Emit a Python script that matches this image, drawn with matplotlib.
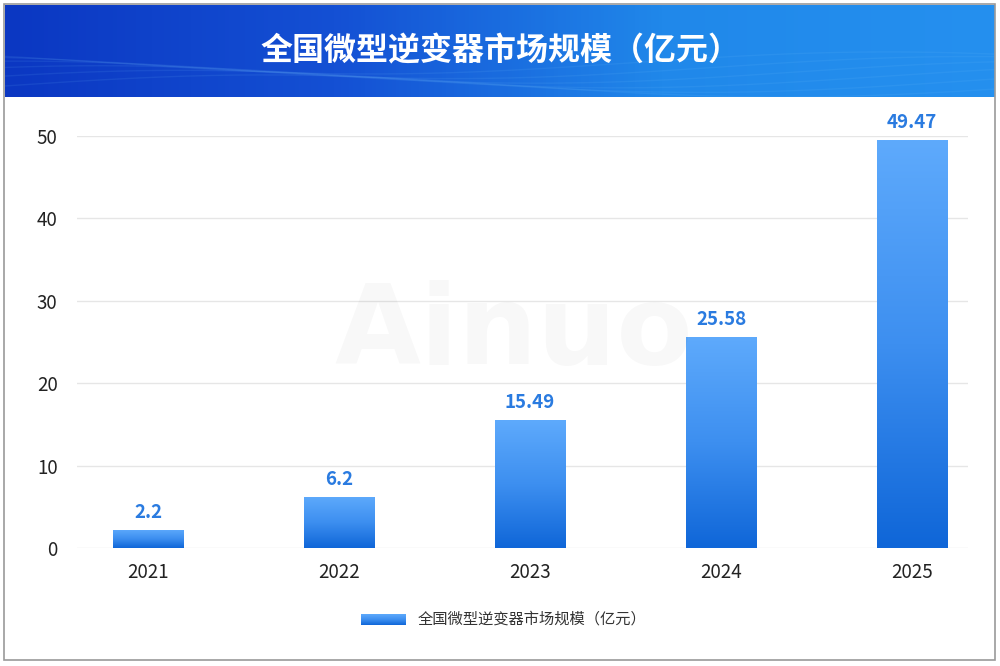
import numpy as np
import matplotlib.pyplot as plt
from matplotlib.colors import LinearSegmentedColormap
from matplotlib.patches import Rectangle

plt.rcParams['font.family'] = ['Noto Sans CJK SC', 'DejaVu Sans']

# 数据
years = ["2021", "2022", "2023", "2024", "2025"]
values = [2.2, 6.2, 15.49, 25.58, 49.47]
value_labels = ["2.2", "6.2", "15.49", "25.58", "49.47"]
yticks = [0, 10, 20, 30, 40, 50]
title = "全国微型逆变器市场规模（亿元）"
series_name = "全国微型逆变器市场规模（亿元）"

bar_cmap = LinearSegmentedColormap.from_list("bar", ["#0f66d8", "#3d8ff0", "#5eaafc"])
head_cmap = LinearSegmentedColormap.from_list("head", ["#0b37c2", "#1450d4", "#2088ea", "#2590ef"])

fig = plt.figure(figsize=(10, 6.66), dpi=100)
fig.patch.set_facecolor("white")

# 外边框
fig.patches.append(Rectangle((0.004, 0.009), 0.991, 0.985, transform=fig.transFigure,
                             fill=False, edgecolor="#9a9a9a", linewidth=1.2, zorder=0))

# 标题栏渐变
hax = fig.add_axes([0.005, 1 - 97 / 666, 0.99, 92 / 666])
grad = np.linspace(0, 1, 256).reshape(1, -1)
hax.imshow(grad, aspect="auto", cmap=head_cmap, extent=[0, 1, 0, 1])
xx = np.linspace(0, 1, 400)
for k in range(6):
    hax.plot(xx, 0.12 + 0.05 * k + 0.12 * np.sin(xx * 6 + k * 0.5), color="#7cc8ff",
             alpha=0.10, lw=1)
hax.set_xlim(0, 1)
hax.set_ylim(0, 1)
hax.axis("off")
hax.text(0.5, 0.5, title, color="white", fontsize=23, fontweight="bold",
         ha="center", va="center")

# 主图
ax = fig.add_axes([0.077, 1 - 548 / 666, 0.891, 412 / 666])
x = np.arange(len(years))
width = 0.37
bars = ax.bar(x, values, width=width, color="none", edgecolor="none", zorder=2)
vgrad = np.linspace(0, 1, 256).reshape(-1, 1)
for b in bars:
    x0, y0 = b.get_x(), b.get_y()
    w, h = b.get_width(), b.get_height()
    im = ax.imshow(vgrad, aspect="auto", cmap=bar_cmap, origin="lower",
                   extent=[x0, x0 + w, y0, y0 + h], zorder=2)
    im.set_clip_path(b)

for xi, v, lab in zip(x, values, value_labels):
    ax.text(xi, v + 1.0, lab, ha="center", va="bottom", color="#2a7be0",
            fontsize=13.5, fontweight="bold", zorder=3)

ax.set_xlim(-0.372, 4.293)
ax.set_ylim(0, 50)
ax.set_yticks(yticks)
ax.set_xticks(x)
ax.set_xticklabels(years)
ax.tick_params(axis="both", length=0, labelsize=13.5, colors="#222222")
ax.tick_params(axis="x", pad=10)
ax.tick_params(axis="y", pad=14)
ax.grid(axis="y", color="#e6e6e6", linewidth=1, zorder=0)
ax.set_axisbelow(True)
for s in ax.spines.values():
    s.set_visible(False)

# 水印
ax.text(0.49, 0.52, "Ainuo", transform=ax.transAxes, fontsize=80, fontweight="bold",
        color="#000000", alpha=0.028, ha="center", va="center", family="DejaVu Sans")

# 图例
lax = fig.add_axes([361 / 1000, 1 - 625 / 666, 45 / 1000, 11 / 666])
lax.imshow(vgrad, aspect="auto", cmap=bar_cmap, origin="lower", extent=[0, 1, 0, 1])
lax.axis("off")
fig.text(418 / 1000, 1 - 619 / 666, series_name, fontsize=11, color="#333333",
         ha="left", va="center")

fig.savefig("out.png", dpi=100)
